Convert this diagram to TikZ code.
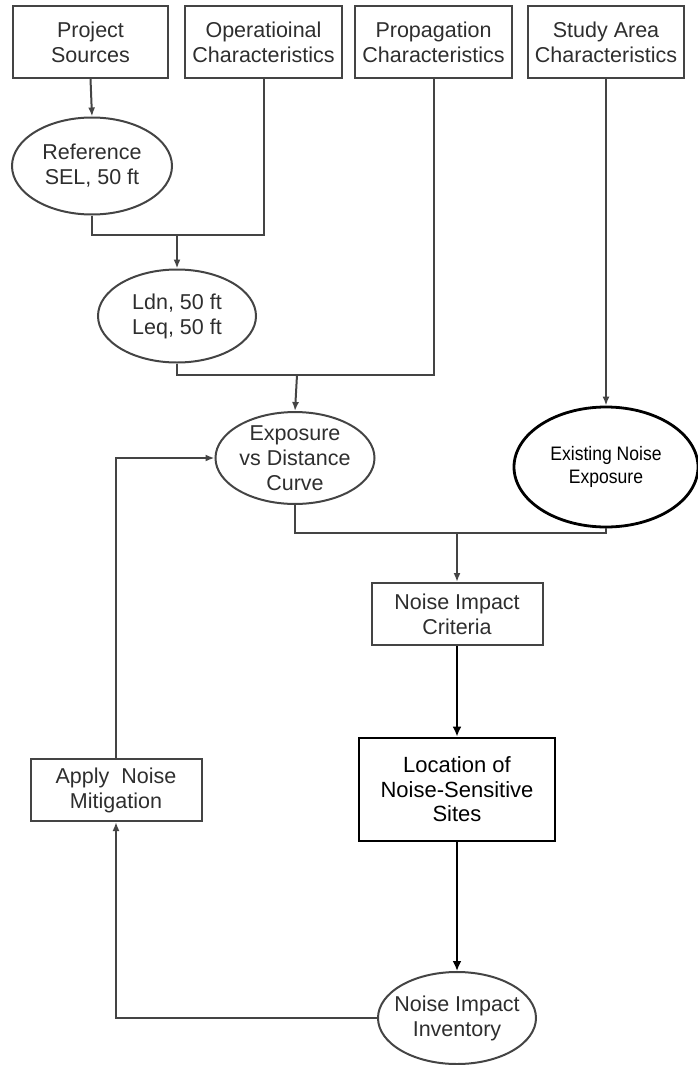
\documentclass[tikz,border=0pt]{standalone}
\usepackage{fontspec}
\setmainfont{Liberation Sans}
\newfontfamily\narrowfont[FakeStretch=0.9]{Liberation Sans}
\usetikzlibrary{shapes.geometric,arrows.meta}

\definecolor{inkgray}{HTML}{444444}
\definecolor{textgray}{HTML}{2E2E2E}

\tikzset{
  box/.style    = {draw=inkgray, line width=2pt, rectangle, align=center,
                   inner sep=0pt, text=textgray,
                   font=\fontsize{21.5}{25}\selectfont},
  oval/.style   = {draw=inkgray, line width=2pt, ellipse, align=center,
                   inner sep=0pt, text=textgray,
                   font=\fontsize{21.5}{25}\selectfont},
  boldbox/.style  = {box, draw=black, line width=2.8pt, text=black,
                     font=\fontsize{22}{24.5}\selectfont},
  boldoval/.style = {oval, draw=black, line width=2.8pt, text=black,
                     font=\narrowfont\fontsize{19.5}{23}\selectfont},
  link/.style   = {draw=inkgray, line width=2pt},
  flow/.style   = {link, -{Latex[length=9pt,width=7pt]}},
  boldflow/.style = {draw=black, line width=2.2pt, -{Latex[length=10pt,width=9pt]}}
}

\begin{document}
\begin{tikzpicture}[x=1pt, y=-1pt]
  \useasboundingbox (0,0) rectangle (698,1065);

  % top row
  \node[box, minimum width=155pt, minimum height=72pt] (src)   at (90.5,42)  {Project\\Sources};
  \node[box, minimum width=157pt, minimum height=72pt] (ops)   at (263.5,42) {Operatioinal\\Characteristics};
  \node[box, minimum width=157pt, minimum height=72pt] (prop)  at (433.5,42) {Propagation\\Characteristics};
  \node[box, minimum width=156pt, minimum height=72pt] (study) at (606,42)   {Study Area\\Characteristics};

  \node[oval, minimum width=160pt, minimum height=97pt] (ref)  at (92,166)   {Reference\\SEL, 50 ft};
  \node[oval, minimum width=158pt, minimum height=93pt] (ldn)  at (177,316)  {Ldn, 50 ft\\Leq, 50 ft};
  \node[oval, minimum width=159pt, minimum height=84pt] (expo) at (295,458)  {Exposure\\vs Distance\\Curve};
  \node[boldoval, minimum width=184pt, minimum height=120pt] (exist) at (606,467) {Existing Noise\\Exposure};

  \node[box, minimum width=171pt, minimum height=62pt] (crit) at (457,614)    {Noise Impact\\Criteria};
  \node[boldbox, minimum width=196pt, minimum height=103pt] (loc) at (457,789.5) {Location of\\Noise-Sensitive\\Sites};
  \node[oval, inner xsep=-14pt, minimum width=158pt, minimum height=92pt] (inv) at (457,1018) {Noise Impact\\Inventory};
  \node[box, minimum width=171pt, minimum height=62pt] (mit)  at (116,790)   {Apply\ \ Noise\\Mitigation};

  \coordinate (j1) at (177,235);
  \coordinate (j2) at (297,375);
  \coordinate (j3) at (457,533);

  \draw[flow] (src.south) -- (ref.north);
  \draw[link] (ref.south) |- (j1) -| (ops.south);
  \draw[flow] (j1) -- (ldn.north);
  \draw[link] (ldn.south) |- (j2) -| (prop.south);
  \draw[flow] (j2) -- (expo.north);
  \draw[flow] (study.south) -- (exist.north);
  \draw[link] (expo.south) |- (j3) -| (exist.south);
  \draw[flow] (j3) -- (crit.north);
  \draw[boldflow] (crit.south) -- (loc.north);
  \draw[boldflow] (loc.south) -- (inv.north);
  \draw[flow] (inv.west) -| (mit.south);
  \draw[flow] (mit.north) |- (expo.west);
\end{tikzpicture}
\end{document}
